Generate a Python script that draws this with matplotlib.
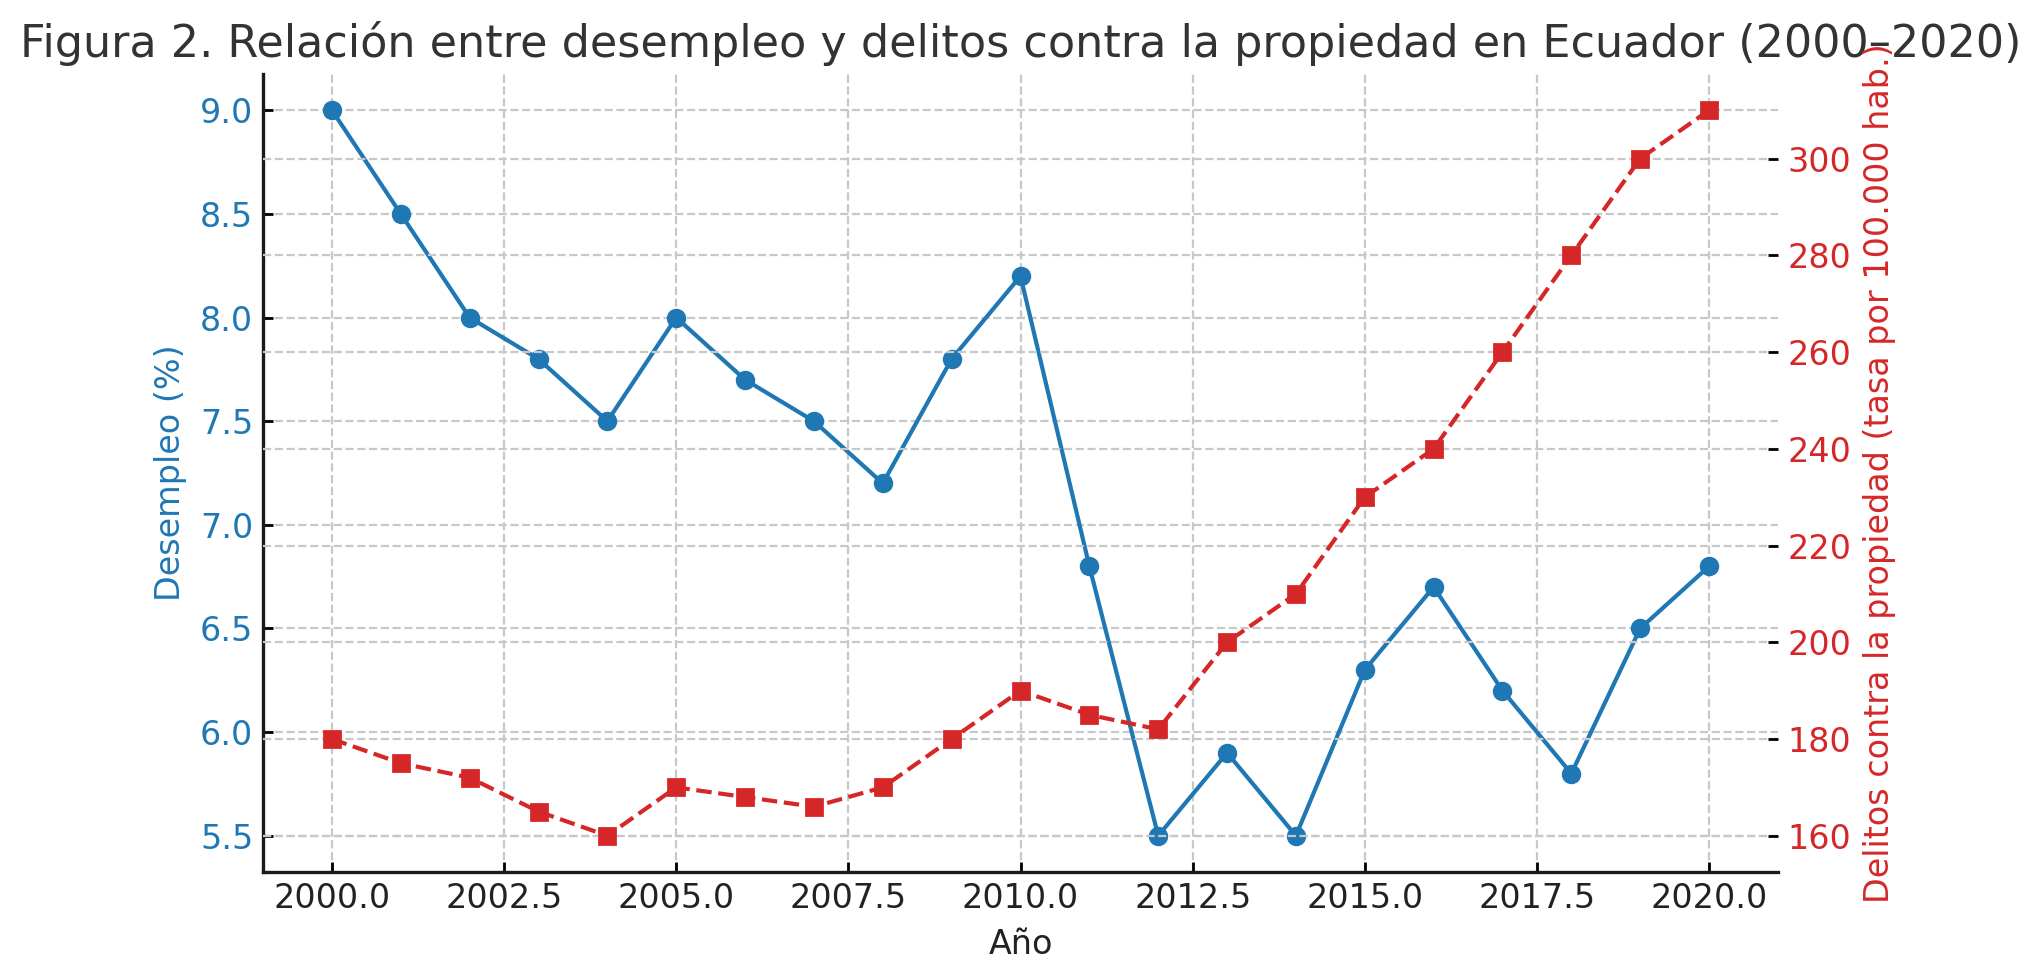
import matplotlib
matplotlib.use("Agg")
import matplotlib.pyplot as plt

years = [2000, 2001, 2002, 2003, 2004, 2005, 2006, 2007, 2008, 2009, 2010,
         2011, 2012, 2013, 2014, 2015, 2016, 2017, 2018, 2019, 2020]
desempleo = [9.0, 8.5, 8.0, 7.8, 7.5, 8.0, 7.7, 7.5, 7.2, 7.8, 8.2,
             6.8, 5.5, 5.9, 5.5, 6.3, 6.7, 6.2, 5.8, 6.5, 6.8]
delitos = [180, 175, 172, 165, 160, 170, 168, 166, 170, 180, 190,
           185, 182, 200, 210, 230, 240, 260, 280, 300, 310]

title = "Figura 2. Relación entre desempleo y delitos contra la propiedad en Ecuador (2000–2020)"
xlabel = "Año"
ylabel_left = "Desempleo (%)"
ylabel_right = "Delitos contra la propiedad (tasa por 100.000 hab.)"

blue = "#1f77b4"
red = "#d62728"

plt.rcParams['font.family'] = ['DejaVu Sans']

fig, ax = plt.subplots(figsize=(2041/200, 980/200), dpi=200)
fig.subplots_adjust(left=0.1289, right=0.8711, bottom=0.1102, top=0.9245)

ax.plot(years, desempleo, color=blue, marker='o', linewidth=1.5, markersize=6)
ax.set_xlabel(xlabel, fontsize=12, color='#222222', labelpad=4.8)
ax.set_ylabel(ylabel_left, fontsize=12, color=blue, labelpad=4.7)
ax.tick_params(axis='y', labelcolor=blue, labelsize=12, width=1, length=3.5, direction='in')
ax.tick_params(axis='x', labelcolor='#222222', labelsize=12, width=1, length=3.5, direction='in')
ax.grid(True, linestyle='--', color='#c8c8c8', linewidth=0.8)

ax2 = ax.twinx()
ax2.plot(years, delitos, color=red, marker='s', linestyle='--', linewidth=1.5, markersize=6)
ax2.set_ylabel(ylabel_right, fontsize=12, color=red)
ax2.tick_params(axis='y', labelcolor=red, labelsize=12, width=1, length=3.5, direction='in')
ax2.grid(True, linestyle='--', color='#c8c8c8', linewidth=0.8)

for a in (ax, ax2):
    a.spines['top'].set_visible(False)
    a.spines['right'].set_visible(False)
    for s in a.spines.values():
        s.set_linewidth(1.2)
        s.set_color('#1a1a1a')
ax2.spines['left'].set_visible(False)
ax2.spines['bottom'].set_visible(False)

ax.set_title(title, fontsize=16, color='#333333')

fig.savefig("out.png", dpi=200)
